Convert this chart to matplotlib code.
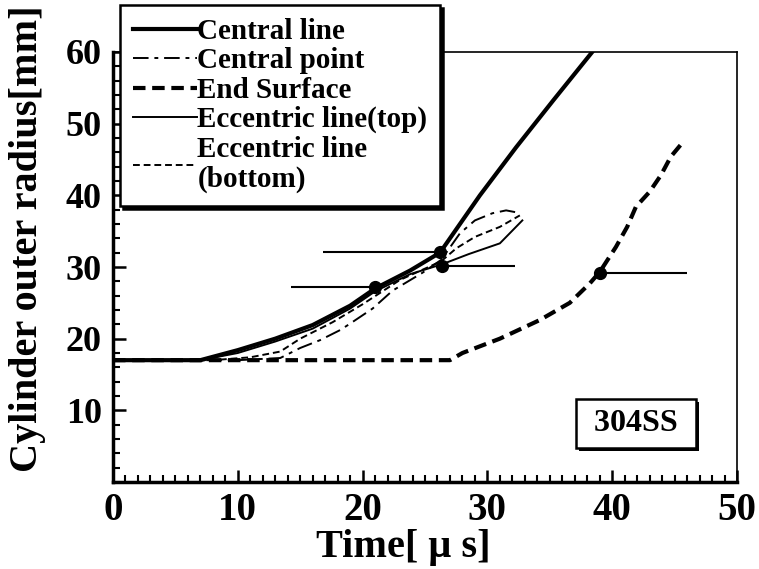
from matplotlib import pyplot as plt
from matplotlib.ticker import MultipleLocator
from matplotlib import patheffects as pe

plt.rcParams['font.family'] = ['Liberation Serif', 'DejaVu Serif']
plt.rcParams['font.weight'] = 'bold'
plt.rcParams['axes.labelweight'] = 'bold'

# 中心線
t_central = [0, 7, 10, 13, 16, 19, 21, 23.8, 26.2, 27.8, 29.4, 32.3, 35.3, 38.4]
r_central = [17, 17, 18.4, 20, 21.9, 24.6, 27.0, 29.5, 32, 36, 40, 46.7, 53.3, 60]

# 中心点
t_cpoint = [0, 10, 13.4, 15, 16.6, 18.2, 19, 20.8, 22.4, 24.8, 26.3, 27.8, 29, 30.4, 31.5, 32.4]
r_cpoint = [17, 17, 17.3, 18.7, 19.8, 21.2, 22.1, 24.2, 26.7, 29.2, 31, 34.7, 36.5, 37.5, 37.9, 37.6]

# 端面
t_end = [0, 27, 28, 31, 34.2, 36.6, 38.2, 39.0, 40.3, 41.2, 41.9, 43.0, 43.9, 44.7, 45.8]
r_end = [17, 17, 18, 20, 22.6, 25, 27.7, 29.3, 32.8, 35.6, 38.4, 40.5, 42.8, 45.4, 47.7]

# 偏心線(上)
t_top = [0, 7, 10, 13, 16, 19, 21, 23.8, 26.4, 28.5, 31, 32.8]
r_top = [17, 17, 18, 19.6, 21.4, 24.2, 26.6, 29, 30.4, 31.8, 33.3, 36.5]

# 偏心線(下)
t_bot = [0, 8, 11, 13.4, 15, 17.6, 20, 23, 26.3, 27.5, 29, 31, 32.6]
r_bot = [17, 17, 17.4, 18.2, 20, 22.3, 24.8, 28.2, 30.8, 32.6, 34.2, 35.6, 37.2]

# 計測点と横線
mk_t = [21.0, 26.2, 26.4, 39.0]
mk_r = [27.2, 32.1, 30.1, 29.2]
bar_lo = [14.3, 16.8, 26.4, 39.0]
bar_hi = [21.0, 26.2, 32.2, 46.0]

fig = plt.figure(figsize=(7.59, 5.69), dpi=100)
ax = fig.add_axes([113/759, 1-482/569, (737-113)/759, (482-52)/569])

l1, = ax.plot(t_central, r_central, 'k-', lw=3.0, label='Central line')
l2, = ax.plot(t_cpoint, r_cpoint, 'k', lw=1.4, dashes=[8, 3, 2, 3], label='Central point')
l3, = ax.plot(t_end, r_end, 'k', lw=3.0, dashes=[3, 1.6], label='End Surface')
l4, = ax.plot(t_top, r_top, 'k-', lw=1.4, label='Eccentric line(top)')
l5, = ax.plot(t_bot, r_bot, 'k', lw=1.4, dashes=[3.5, 2], label='Eccentric line\n(bottom)')

ax.hlines(mk_r, bar_lo, bar_hi, colors='k', lw=1.5)
ax.plot(mk_t, mk_r, 'ko', ms=8.5)

ax.set_xlim(0, 50)
ax.set_ylim(0, 60)
ax.xaxis.set_major_locator(MultipleLocator(10))
ax.xaxis.set_minor_locator(MultipleLocator(1))
ax.yaxis.set_major_locator(MultipleLocator(10))
ax.yaxis.set_minor_locator(MultipleLocator(2))
ax.tick_params(which='major', direction='in', length=9, width=1.8, pad=8)
ax.tick_params(which='minor', direction='in', length=5, width=1.5)
ax.tick_params(axis='x', labelsize=28, pad=7)
ax.tick_params(axis='y', labelsize=26)
ax.tick_params(top=False, right=False, which='both')
ax.set_yticks([10, 20, 30, 40, 50, 60])
ax.set_xticks([0, 10, 20, 30, 40, 50])
ax.spines['left'].set_linewidth(2.5)
ax.spines['bottom'].set_linewidth(2.5)
ax.spines['top'].set_linewidth(1.2)
ax.spines['right'].set_linewidth(1.2)

ax.set_xlabel('Time[ \u03bc s]', fontsize=29)
ax.set_ylabel('Cylinder outer radius[mm]', fontsize=29)
ax.xaxis.set_label_coords(0.465, -0.11)
ax.yaxis.set_label_coords(-0.108, 0.565)

# 材料ラベル(影付き)
lbl = ax.text(41.9, 8.2, ' 304SS ', fontsize=23, ha='center', va='center',
              bbox=dict(boxstyle='square,pad=0.32', fc='white', ec='k', lw=1.8))
lbl.get_bbox_patch().set_path_effects(
    [pe.SimplePatchShadow(offset=(2.5, -2.5), shadow_rgbFace='k', alpha=1), pe.Normal()])

leg = fig.legend(handles=[l1, l2, l3, l4, l5], loc='upper left',
                 bbox_to_anchor=(120/759, 1-5/569), bbox_transform=fig.transFigure,
                 borderaxespad=0, fontsize=21, handlelength=2.2, handletextpad=0.0,
                 labelspacing=0.08, borderpad=0.45, fancybox=False, framealpha=1,
                 edgecolor='k', shadow={'color': 'black', 'alpha': 1})
leg.get_frame().set_linewidth(1.8)
for txt in leg.get_texts():
    txt.set_linespacing(1.12)

fig.savefig('out.png', dpi=100)
